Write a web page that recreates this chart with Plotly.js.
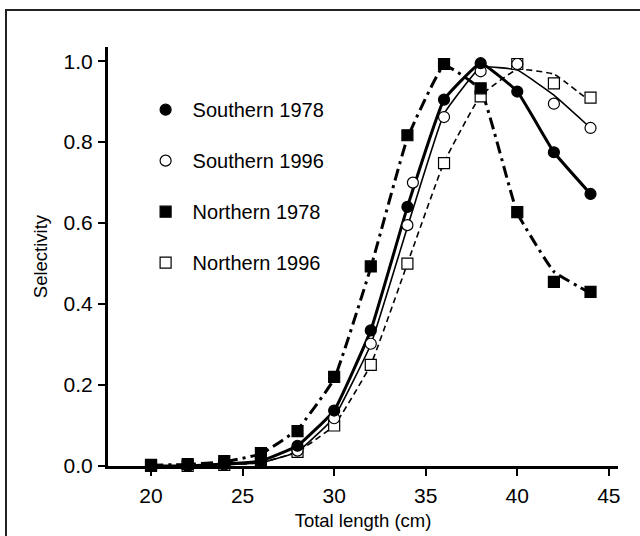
<!DOCTYPE html>
<html>
<head>
<meta charset="utf-8">
<script src="https://cdn.plot.ly/plotly-3.0.1.min.js"></script>
<style>
  html, body { margin: 0; padding: 0; background: #fff; overflow: hidden; }
  #wrap { position: relative; width: 640px; height: 536px; }
  #frame { position: absolute; left: 5px; top: 9px; width: 700px; height: 700px;
           border-left: 2px solid #222; border-top: 2px solid #222; pointer-events: none; }
  #chart { position: absolute; left: 0; top: 0; width: 640px; height: 536px; }
</style>
</head>
<body>
<div id="wrap">
  <div id="chart"></div>
  <div id="frame"></div>
</div>
<script>
// Data
const lengths = [20, 22, 24, 26, 28, 30, 32, 34, 36, 38, 40, 42, 44];

// Observed selectivity (markers)
const south1978 = [0.0, 0.0, 0.005, 0.012, 0.05, 0.137, 0.335, 0.64, 0.905, 0.995, 0.925, 0.775, 0.672];
const south1996 = [0.0, 0.0, 0.003, 0.008, 0.038, 0.118, 0.302, 0.595, 0.862, 0.975, 0.993, 0.895, 0.835];
const north1978 = [0.003, 0.005, 0.012, 0.032, 0.086, 0.22, 0.493, 0.817, 0.993, 0.933, 0.627, 0.455, 0.43];
const north1996 = [0.0, 0.0, 0.003, 0.008, 0.035, 0.1, 0.25, 0.5, 0.748, 0.913, 0.993, 0.945, 0.91];

// Extra open-circle point visible in the reference
const south1996ExtraX = [34.3];
const south1996ExtraY = [0.70];

// Fitted curves (lines)
const south1978Fit = [0.0, 0.0, 0.005, 0.012, 0.05, 0.137, 0.335, 0.64, 0.905, 0.995, 0.925, 0.775, 0.672];
const south1996Fit = [0.0, 0.0, 0.003, 0.008, 0.035, 0.12, 0.30, 0.59, 0.87, 0.985, 0.978, 0.916, 0.835];
const north1978Fit = [0.002, 0.004, 0.01, 0.03, 0.09, 0.215, 0.49, 0.81, 0.99, 0.93, 0.625, 0.48, 0.427];
const north1996Fit = [0.0, 0.0, 0.003, 0.008, 0.035, 0.1, 0.25, 0.5, 0.75, 0.915, 0.98, 0.968, 0.90];

const seriesNames = ['Southern 1978', 'Southern 1996', 'Northern 1978', 'Northern 1996'];
const xTickVals = [20, 25, 30, 35, 40, 45];
const yTickVals = [0, 0.2, 0.4, 0.6, 0.8, 1.0];

const lineTrace = (y, width, dash) => ({
  x: lengths, y: y, mode: 'lines', type: 'scatter', showlegend: false,
  hoverinfo: 'skip', cliponaxis: false,
  line: { color: '#000', width: width, dash: dash, shape: 'spline', smoothing: 0.3 }
});
const markerTrace = (x, y, name, symbol, fill, show, group, rank) => ({
  x: x, y: y, mode: 'markers', type: 'scatter', name: name, showlegend: show,
  legendgroup: group, legendrank: rank, cliponaxis: false,
  marker: { symbol: symbol, size: 11, color: fill, line: { color: '#000', width: 1.2 } }
});

const data = [
  lineTrace(north1996Fit, 1.6, '6px,4px'),
  lineTrace(south1996Fit, 1.6, 'solid'),
  lineTrace(north1978Fit, 3, '12px,5px,3px,5px'),
  lineTrace(south1978Fit, 3, 'solid'),
  markerTrace(lengths, north1996, seriesNames[3], 'square', '#fff', true, 'g4', 4),
  markerTrace(lengths, south1996, seriesNames[1], 'circle', '#fff', true, 'g2', 2),
  markerTrace(south1996ExtraX, south1996ExtraY, seriesNames[1], 'circle', '#fff', false, 'g2', 2),
  markerTrace(lengths, north1978, seriesNames[2], 'square', '#000', true, 'g3', 3),
  markerTrace(lengths, south1978, seriesNames[0], 'circle', '#000', true, 'g1', 1)
];

const layout = {
  width: 640, height: 536,
  margin: { l: 108, r: 22, t: 47, b: 70 },
  paper_bgcolor: '#fff', plot_bgcolor: '#fff',
  font: { family: 'Liberation Sans, Arial, sans-serif', color: '#000' },
  showlegend: true,
  legend: {
    x: 0.06, y: 0.897, xanchor: 'left', yanchor: 'top',
    bgcolor: 'rgba(0,0,0,0)', borderwidth: 0,
    font: { size: 20, color: '#000' },
    tracegroupgap: 22, itemwidth: 44, traceorder: 'grouped'
  },
  xaxis: {
    range: [17.65, 45.5], tickvals: xTickVals, ticktext: xTickVals.map(String),
    showgrid: false, zeroline: false, showline: true, linewidth: 3, linecolor: '#000',
    ticks: 'outside', ticklen: 7, tickwidth: 2, tickcolor: '#000',
    tickfont: { size: 21 }, ticklabelstandoff: 2,
    title: { text: 'Total length (cm)', font: { size: 18.5 }, standoff: 8 }
  },
  yaxis: {
    range: [0, 1.035], tickvals: yTickVals, ticktext: yTickVals.map(v => v.toFixed(1)),
    showgrid: false, zeroline: false, showline: true, linewidth: 3, linecolor: '#000',
    ticks: 'outside', ticklen: 7, tickwidth: 2, tickcolor: '#000',
    tickfont: { size: 21 }, ticklabelstandoff: 1,
    title: { text: 'Selectivity', font: { size: 18.5 }, standoff: 12 }
  }
};

Plotly.newPlot('chart', data, layout, { displayModeBar: false, staticPlot: true });
</script>
</body>
</html>
